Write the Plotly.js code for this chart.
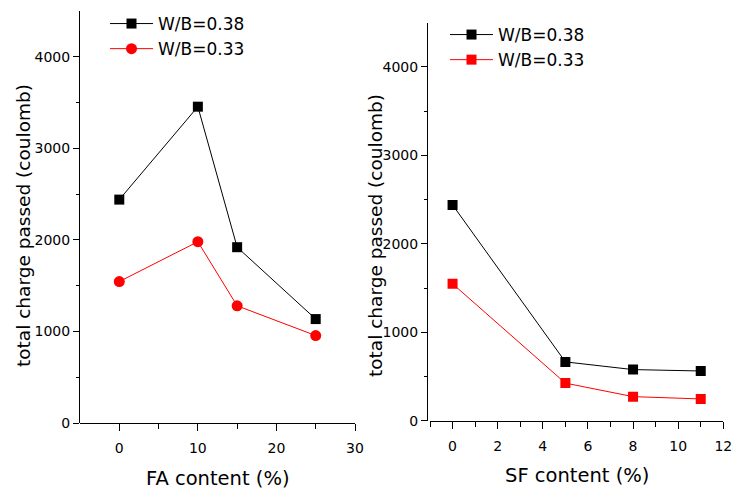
<!DOCTYPE html>
<html>
<head>
<meta charset="utf-8">
<script src="https://cdn.plot.ly/plotly-3.0.1.min.js"></script>
<style>html,body{margin:0;padding:0;background:#fff;}#chart{width:734px;height:490px;}</style>
</head>
<body>
<div id="chart"></div>
<script>
// Left panel: FA content
const faContent = [0, 10, 15, 25];
const faWB038 = [2440, 3455, 1920, 1135];
const faWB033 = [1545, 1980, 1280, 955];
// Right panel: SF content
const sfContent = [0, 5, 8, 11];
const sfWB038 = [2440, 665, 578, 562];
const sfWB033 = [1548, 425, 272, 246];
const seriesNames = ['W/B=0.38', 'W/B=0.33'];
const leftXTitle = 'FA content (%)';
const rightXTitle = 'SF content (%)';
const yTitle = 'total charge passed (coulomb)';

const W = 734, H = 490;
const FAM = '"DejaVu Sans", sans-serif';
const font = {family: FAM, color: '#000'};

const traces = [
  {x: faContent, y: faWB038, name: seriesNames[0], type: 'scatter', mode: 'lines+markers',
   line: {color: '#000', width: 1}, marker: {symbol: 'square', size: 10, color: '#000'},
   xaxis: 'x', yaxis: 'y', legend: 'legend'},
  {x: faContent, y: faWB033, name: seriesNames[1], type: 'scatter', mode: 'lines+markers',
   line: {color: '#ff0000', width: 1}, marker: {symbol: 'circle', size: 11, color: '#ff0000'},
   xaxis: 'x', yaxis: 'y', legend: 'legend'},
  {x: sfContent, y: sfWB038, name: seriesNames[0], type: 'scatter', mode: 'lines+markers',
   line: {color: '#000', width: 1}, marker: {symbol: 'square', size: 10, color: '#000'},
   xaxis: 'x2', yaxis: 'y2', legend: 'legend2'},
  {x: sfContent, y: sfWB033, name: seriesNames[1], type: 'scatter', mode: 'lines+markers',
   line: {color: '#ff0000', width: 1}, marker: {symbol: 'square', size: 10, color: '#ff0000'},
   xaxis: 'x2', yaxis: 'y2', legend: 'legend2'}
];

const axCommon = {
  showgrid: false, zeroline: false, showline: true, linecolor: '#000', linewidth: 1,
  ticks: 'outside', tickcolor: '#000', tickwidth: 1, mirror: false,
  tickfont: {family: FAM, size: 14, color: '#000'}
};

const layout = {
  width: W, height: H,
  margin: {l: 0, r: 0, t: 0, b: 0},
  paper_bgcolor: '#fff', plot_bgcolor: 'rgba(0,0,0,0)',
  font: font,
  showlegend: true,
  xaxis: Object.assign({}, axCommon, {
    domain: [80/W, 355/W], range: [-5, 30], tickvals: [0, 10, 20, 30], ticklen: 7,
    minor: {tickvals: [5, 15, 25], ticklen: 5, ticks: 'outside', tickcolor: '#000'},
    anchor: 'y', ticklabelstandoff: 5
  }),
  yaxis: Object.assign({}, axCommon, {
    domain: [1 - 423/H, 1 - 11/H], range: [0, 4500], tickvals: [0, 1000, 2000, 3000, 4000], ticklen: 6,
    minor: {tickvals: [500, 1500, 2500, 3500], ticklen: 3, ticks: 'outside', tickcolor: '#000'},
    anchor: 'free', position: 79/W
  }),
  xaxis2: Object.assign({}, axCommon, {
    domain: [430/W, 723.3/W], range: [-1, 12], tickvals: [0, 2, 4, 6, 8, 10, 12], ticklen: 7,
    minor: {tickvals: [-1, 1, 3, 5, 7, 9, 11], ticklen: 5, ticks: 'outside', tickcolor: '#000'},
    anchor: 'y2', ticklabelstandoff: 5
  }),
  yaxis2: Object.assign({}, axCommon, {
    domain: [1 - 420.7/H, 1 - 22.7/H], range: [0, 4500], tickvals: [0, 1000, 2000, 3000, 4000], ticklen: 6,
    minor: {tickvals: [500, 1500, 2500, 3500], ticklen: 3, ticks: 'outside', tickcolor: '#000'},
    anchor: 'free', position: 427/W
  }),
  legend: {
    x: 105/W, y: 1 - 6/H, xanchor: 'left', yanchor: 'top', bgcolor: 'rgba(0,0,0,0)',
    font: {family: FAM, size: 17, color: '#000'}, itemwidth: 43, tracegroupgap: 0
  },
  legend2: {
    x: 445/W, y: 1 - 17/H, xanchor: 'left', yanchor: 'top', bgcolor: 'rgba(0,0,0,0)',
    font: {family: FAM, size: 17, color: '#000'}, itemwidth: 43, tracegroupgap: 0
  },
  annotations: [
    {text: leftXTitle, xref: 'paper', yref: 'paper', x: 217.5/W, y: 1 - 478/H, xanchor: 'center', yanchor: 'middle',
     showarrow: false, font: {family: FAM, size: 19.5, color: '#000'}},
    {text: rightXTitle, xref: 'paper', yref: 'paper', x: 577/W, y: 1 - 475/H, xanchor: 'center', yanchor: 'middle',
     showarrow: false, font: {family: FAM, size: 19.5, color: '#000'}},
    {text: yTitle, xref: 'paper', yref: 'paper', x: 23/W, y: 1 - 226/H, xanchor: 'center', yanchor: 'middle',
     textangle: -90, showarrow: false, font: {family: FAM, size: 18.5, color: '#000'}},
    {text: yTitle, xref: 'paper', yref: 'paper', x: 375/W, y: 1 - 236/H, xanchor: 'center', yanchor: 'middle',
     textangle: -90, showarrow: false, font: {family: FAM, size: 18.5, color: '#000'}}
  ]
};

Plotly.newPlot('chart', traces, layout, {displayModeBar: false, staticPlot: true});
</script>
</body>
</html>
